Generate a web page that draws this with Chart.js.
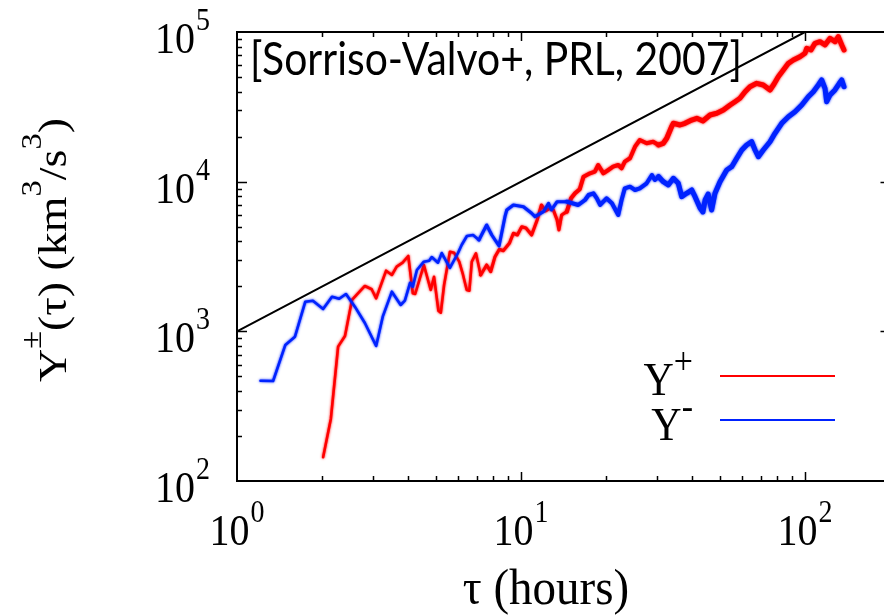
<!DOCTYPE html>
<html>
<head>
<meta charset="utf-8">
<script src="https://cdn.jsdelivr.net/npm/chart.js@4/dist/chart.umd.min.js"></script>
<style>
  html, body { margin: 0; padding: 0; background: #fff; width: 884px; height: 615px; overflow: hidden; }
  #wrap { position: relative; width: 894px; height: 615px; }
</style>
</head>
<body>
<div id="wrap"><canvas id="c" width="894" height="615"></canvas></div>
<script>
// Y+ (outward) and Y- (inward) third-order moments versus time lag (hours)
const tauPlus = [
  2.01, 2.14, 2.27, 2.40, 2.54, 2.82, 2.98, 3.09, 3.35, 3.51,
  3.65, 3.83, 4.01, 4.16, 4.24, 4.55, 4.81, 4.94, 5.12, 5.22,
  5.36, 5.62, 5.81, 6.06, 6.23, 6.44, 6.58, 6.71, 6.94, 7.21,
  7.57, 7.82, 8.10, 8.39, 8.66, 9.10, 9.40, 9.71, 10.06, 10.41,
  10.9, 11.4, 11.8, 12.2, 12.7, 13.0, 13.4, 13.6, 13.9, 14.5,
  15.0, 15.5, 16.1, 16.6, 17.5, 18.2, 18.7, 19.5, 20.3, 21.1,
  22.0, 22.6, 23.2, 24.2, 25.2, 26.2, 27.7, 29.2, 30.5, 31.7,
  32.6, 33.9, 34.4, 36.3, 37.8, 39.9, 41.6, 43.7, 46.3, 48.9,
  51.6, 54.5, 56.7, 59.0, 61.5, 64.0, 67.6, 71.3, 75.3, 77.8,
  80.5, 83.9, 87.4, 91.0, 96.0, 100.0, 101.4, 105.0, 108.4, 112.9,
  117.6, 122.5, 127.5, 131.0, 134.7, 137.2
];
const yPlus = [
  144, 260, 790, 930, 1620, 2009, 1910, 1662, 2543, 2379,
  2704, 2875, 3187, 1795, 1776, 2775, 1889, 2317, 1373, 1332,
  2040, 3405, 3353, 2920, 2442, 1889, 1869, 2920, 3322, 2379,
  2775, 2503, 3153, 3533, 3458, 3874, 4519, 4403, 5001, 4903,
  4403, 5543, 6985, 6368, 6671, 6467, 5543, 4754, 5989, 6302,
  7743, 8361, 8892, 10800, 11370, 11660, 12920, 11370, 11970, 12590,
  12920, 12290, 13600, 14330, 17130, 18980, 18050, 18490, 17580, 18050,
  19490, 23300, 24550, 23910, 24550, 25820, 26510, 25430, 27890, 28630,
  30120, 32530, 34220, 36060, 39920, 43100, 45410, 44240, 40980, 44940,
  50270, 55740, 61780, 65000, 68390, 72080, 77830, 75810, 84040, 86130,
  81880, 90770, 86130, 93020, 81880, 75810
];
const tauMinus = [
  1.21, 1.34, 1.48, 1.60, 1.74, 1.85, 2.01, 2.16, 2.29, 2.42,
  2.60, 2.82, 3.09, 3.26, 3.51, 3.77, 3.90, 4.07, 4.16, 4.30,
  4.55, 4.75, 4.85, 5.10, 5.26, 5.62, 6.00, 6.18, 6.45, 6.78,
  7.11, 7.57, 7.89, 8.37, 8.78, 8.91, 9.40, 10.2, 10.9, 11.2,
  12.0, 12.5, 12.8, 13.4, 14.5, 15.9, 16.8, 17.3, 18.0, 18.5,
  19.0, 20.0, 20.9, 22.0, 22.6, 23.2, 24.2, 25.2, 26.2, 27.7,
  28.9, 29.6, 30.5, 31.7, 33.0, 34.4, 35.8, 36.8, 38.3, 39.9,
  41.0, 42.7, 43.7, 44.5, 45.6, 46.9, 48.2, 50.2, 53.0, 55.2,
  57.5, 59.9, 62.3, 64.9, 66.7, 68.5, 71.3, 75.3, 78.4, 82.8,
  87.4, 92.2, 97.4, 102.7, 107.0, 111.4, 114.5, 117.6, 119.2, 122.5,
  127.5, 132.1, 134.7, 137.2
];
const yMinus = [
  468, 466, 811, 921, 1578, 1602, 1410, 1704, 1652, 1776,
  1461, 1137, 798, 1253, 1841, 1500, 1602, 2113, 1988, 2570,
  2920, 2965, 3138, 2875, 3337, 2650, 3337, 3775, 4335, 4403,
  4077, 5134, 4403, 3717, 5834, 6467, 6985, 6805, 6149, 5834,
  6302, 7171, 6467, 7350, 7350, 6985, 7543, 8145, 8361, 7743,
  6985, 7743, 7171, 5989, 7543, 9031, 9256, 8798, 9031, 9752,
  11080, 10260, 10800, 10000, 9502, 10530, 9752, 7936, 8361, 8798,
  7936, 6671, 6273, 7543, 8271, 6467, 8361, 10000, 11970, 12590,
  14330, 16280, 17580, 18490, 16280, 14680, 16280, 18490, 21050, 24550,
  27180, 29350, 32530, 36960, 39920, 44240, 47780, 42050, 34220, 37940,
  40980, 45410, 47780, 43100
];
// linear scaling reference Y ∝ τ
const fitTau = [1, 100];
const fitY = [1e3, 1e5];

// decade exponents used for the axis labels
const xDecades = [0, 1, 2];
const yDecades = [2, 3, 4, 5];
const seriesNames = ['Y+', 'Y-'];
const seriesSigns = ['+', '-'];
const citation = '[Sorriso-Valvo+, PRL, 2007]';

const SERIF = '"Liberation Serif", "Times New Roman", serif';
const SANS = 'Lato, "Open Sans", sans-serif';
const STRETCH = 1.12;      // lettering is slightly taller than wide
const RED = 'rgb(255,0,0)';
const BLUE = 'rgb(0,34,255)';

function pts(xs, ys) { return xs.map((t, i) => ({ x: t, y: ys[i] })); }

// the fluctuation band gets wider at long lags
function noiseWidth(c) {
  const t = c.p0.parsed.x;
  if (t > 30) return 5;
  if (t > 14) return 4;
  if (t > 7) return 3.1;
  return 2.6;
}

function stretchedText(ctx, str, x, y, font, sy, align) {
  ctx.save();
  ctx.translate(x, y);
  ctx.scale(1, sy);
  ctx.font = font;
  ctx.textAlign = align || 'left';
  ctx.textBaseline = 'alphabetic';
  ctx.fillText(str, 0, 0);
  ctx.restore();
}

function powerLabel(ctx, exp, x, baseY, anchor) {
  const baseFont = '40px ' + SERIF, supFont = '28px ' + SERIF;
  ctx.font = baseFont; const wb = ctx.measureText('10').width;
  ctx.font = supFont; const ws = ctx.measureText(String(exp)).width;
  const gap = 1;
  const left = anchor === 'right' ? x - wb - gap - ws : x - (wb + gap + ws) / 2;
  stretchedText(ctx, '10', left, baseY, baseFont, STRETCH);
  stretchedText(ctx, String(exp), left + wb + gap, baseY - 23, supFont, STRETCH);
}

// soft edges on the fluctuating series
const softLines = {
  id: 'softLines',
  beforeDatasetDraw(chart, args) {
    if (args.index > 1) return;
    const ctx = chart.ctx;
    ctx.save();
    ctx.shadowColor = chart.data.datasets[args.index].borderColor;
    ctx.shadowBlur = 2.5;
  },
  afterDatasetDraw(chart, args) {
    if (args.index > 1) return;
    chart.ctx.restore();
  }
};

const decorations = {
  id: 'decorations',
  afterDraw(chart) {
    const { ctx, chartArea: a, scales: { x, y } } = chart;
    ctx.save();
    ctx.fillStyle = '#000';
    ctx.strokeStyle = '#000';

    // frame
    ctx.lineWidth = 2;
    ctx.strokeRect(a.left, a.top, a.right - a.left, a.bottom - a.top);

    // inward ticks on all four sides
    ctx.lineWidth = 1.5;
    ctx.beginPath();
    for (let d = 0; d <= 2; d++) {
      for (let m = 1; m <= 9; m++) {
        const v = m * Math.pow(10, d);
        if (v <= x.min || v > x.max) continue;
        const px = Math.round(x.getPixelForValue(v)) + 0.5;
        const len = m === 1 ? 9 : 5;
        ctx.moveTo(px, a.bottom); ctx.lineTo(px, a.bottom - len);
        ctx.moveTo(px, a.top); ctx.lineTo(px, a.top + len);
      }
    }
    for (let d = 2; d <= 5; d++) {
      for (let m = 1; m <= 9; m++) {
        const v = m * Math.pow(10, d);
        if (v <= y.min || v >= y.max) continue;
        const py = Math.round(y.getPixelForValue(v)) + 0.5;
        const len = m === 1 ? 10 : 5;
        ctx.moveTo(a.left, py); ctx.lineTo(a.left + len, py);
        ctx.moveTo(a.right, py); ctx.lineTo(a.right - len, py);
      }
    }
    ctx.stroke();

    // decade labels
    yDecades.forEach(e => powerLabel(ctx, e, 210, y.getPixelForValue(Math.pow(10, e)) + 21, 'right'));
    xDecades.forEach(e => powerLabel(ctx, e, x.getPixelForValue(Math.pow(10, e)), 545, 'center'));

    // x title
    stretchedText(ctx, 'τ (hours)', 546, 604, '47px ' + SERIF, STRETCH * 0.96, 'center');

    // y title, rotated, with superscripts
    const parts = [['Y', 0], ['±', 1], ['(τ) (km', 0], ['3', 1], ['/s', 0], ['3', 1], [')', 0]];
    const mainF = '41px ' + SERIF, supF = '29px ' + SERIF;
    let total = 0;
    parts.forEach(p => { ctx.font = p[1] ? supF : mainF; total += ctx.measureText(p[0]).width; });
    ctx.save();
    ctx.translate(66, 250);
    ctx.rotate(-Math.PI / 2);
    ctx.scale(STRETCH, 1);
    ctx.textBaseline = 'alphabetic';
    ctx.textAlign = 'left';
    let cx = -total / 2;
    parts.forEach(p => {
      ctx.font = p[1] ? supF : mainF;
      ctx.fillText(p[0], cx, p[1] ? -25 : 0);
      cx += ctx.measureText(p[0]).width;
    });
    ctx.restore();

    // citation inside the plot, fitted to its width
    ctx.save();
    ctx.font = '42px ' + SANS;
    const cw = ctx.measureText(citation).width;
    ctx.translate(250, 75);
    ctx.scale(492 / cw, STRETCH);
    ctx.textBaseline = 'alphabetic';
    ctx.fillText(citation, 0, 0);
    ctx.restore();

    // legend: label on the left, line sample on the right
    const rows = [{ y: 376, base: 395, color: chart.data.datasets[0].borderColor, sign: seriesSigns[0] },
                  { y: 420, base: 440, color: chart.data.datasets[1].borderColor, sign: seriesSigns[1] }];
    rows.forEach(r => {
      const supF2 = '34px ' + SERIF;
      ctx.font = supF2;
      const wsgn = ctx.measureText(r.sign).width;
      ctx.font = '42px ' + SERIF;
      const wy = ctx.measureText('Y').width;
      const right = 693;
      stretchedText(ctx, 'Y', right - wsgn - wy, r.base, '42px ' + SERIF, STRETCH);
      stretchedText(ctx, r.sign, right - wsgn, r.base - 21, supF2, STRETCH);
      ctx.strokeStyle = r.color;
      ctx.lineWidth = 2;
      ctx.beginPath(); ctx.moveTo(720, r.y); ctx.lineTo(835, r.y); ctx.stroke();
    });
    ctx.restore();
  }
};

new Chart(document.getElementById('c').getContext('2d'), {
  type: 'line',
  data: {
    datasets: [
      { label: seriesNames[0], data: pts(tauPlus, yPlus), borderColor: RED, borderWidth: 2.6,
        order: 2, segment: { borderWidth: noiseWidth } },
      { label: seriesNames[1], data: pts(tauMinus, yMinus), borderColor: BLUE, borderWidth: 2.6,
        order: 1, segment: { borderWidth: noiseWidth } },
      { label: 'τ', data: pts(fitTau, fitY), borderColor: '#000', borderWidth: 2, order: 0 }
    ]
  },
  options: {
    responsive: false,
    animation: false,
    devicePixelRatio: 1,
    elements: { point: { radius: 0 }, line: { tension: 0, borderJoinStyle: 'round', borderCapStyle: 'round' } },
    layout: { padding: { left: 237, top: 32, right: 3.5, bottom: 134 } },
    plugins: { legend: { display: false }, tooltip: { enabled: false } },
    scales: {
      x: { type: 'logarithmic', min: 1, max: 200,
           ticks: { display: false }, grid: { display: false }, border: { display: false },
           afterFit(s) { s.height = 0; } },
      y: { type: 'logarithmic', min: 100, max: 1e5,
           ticks: { display: false }, grid: { display: false }, border: { display: false },
           afterFit(s) { s.width = 0; } }
    }
  },
  plugins: [softLines, decorations]
});
</script>
</body>
</html>
